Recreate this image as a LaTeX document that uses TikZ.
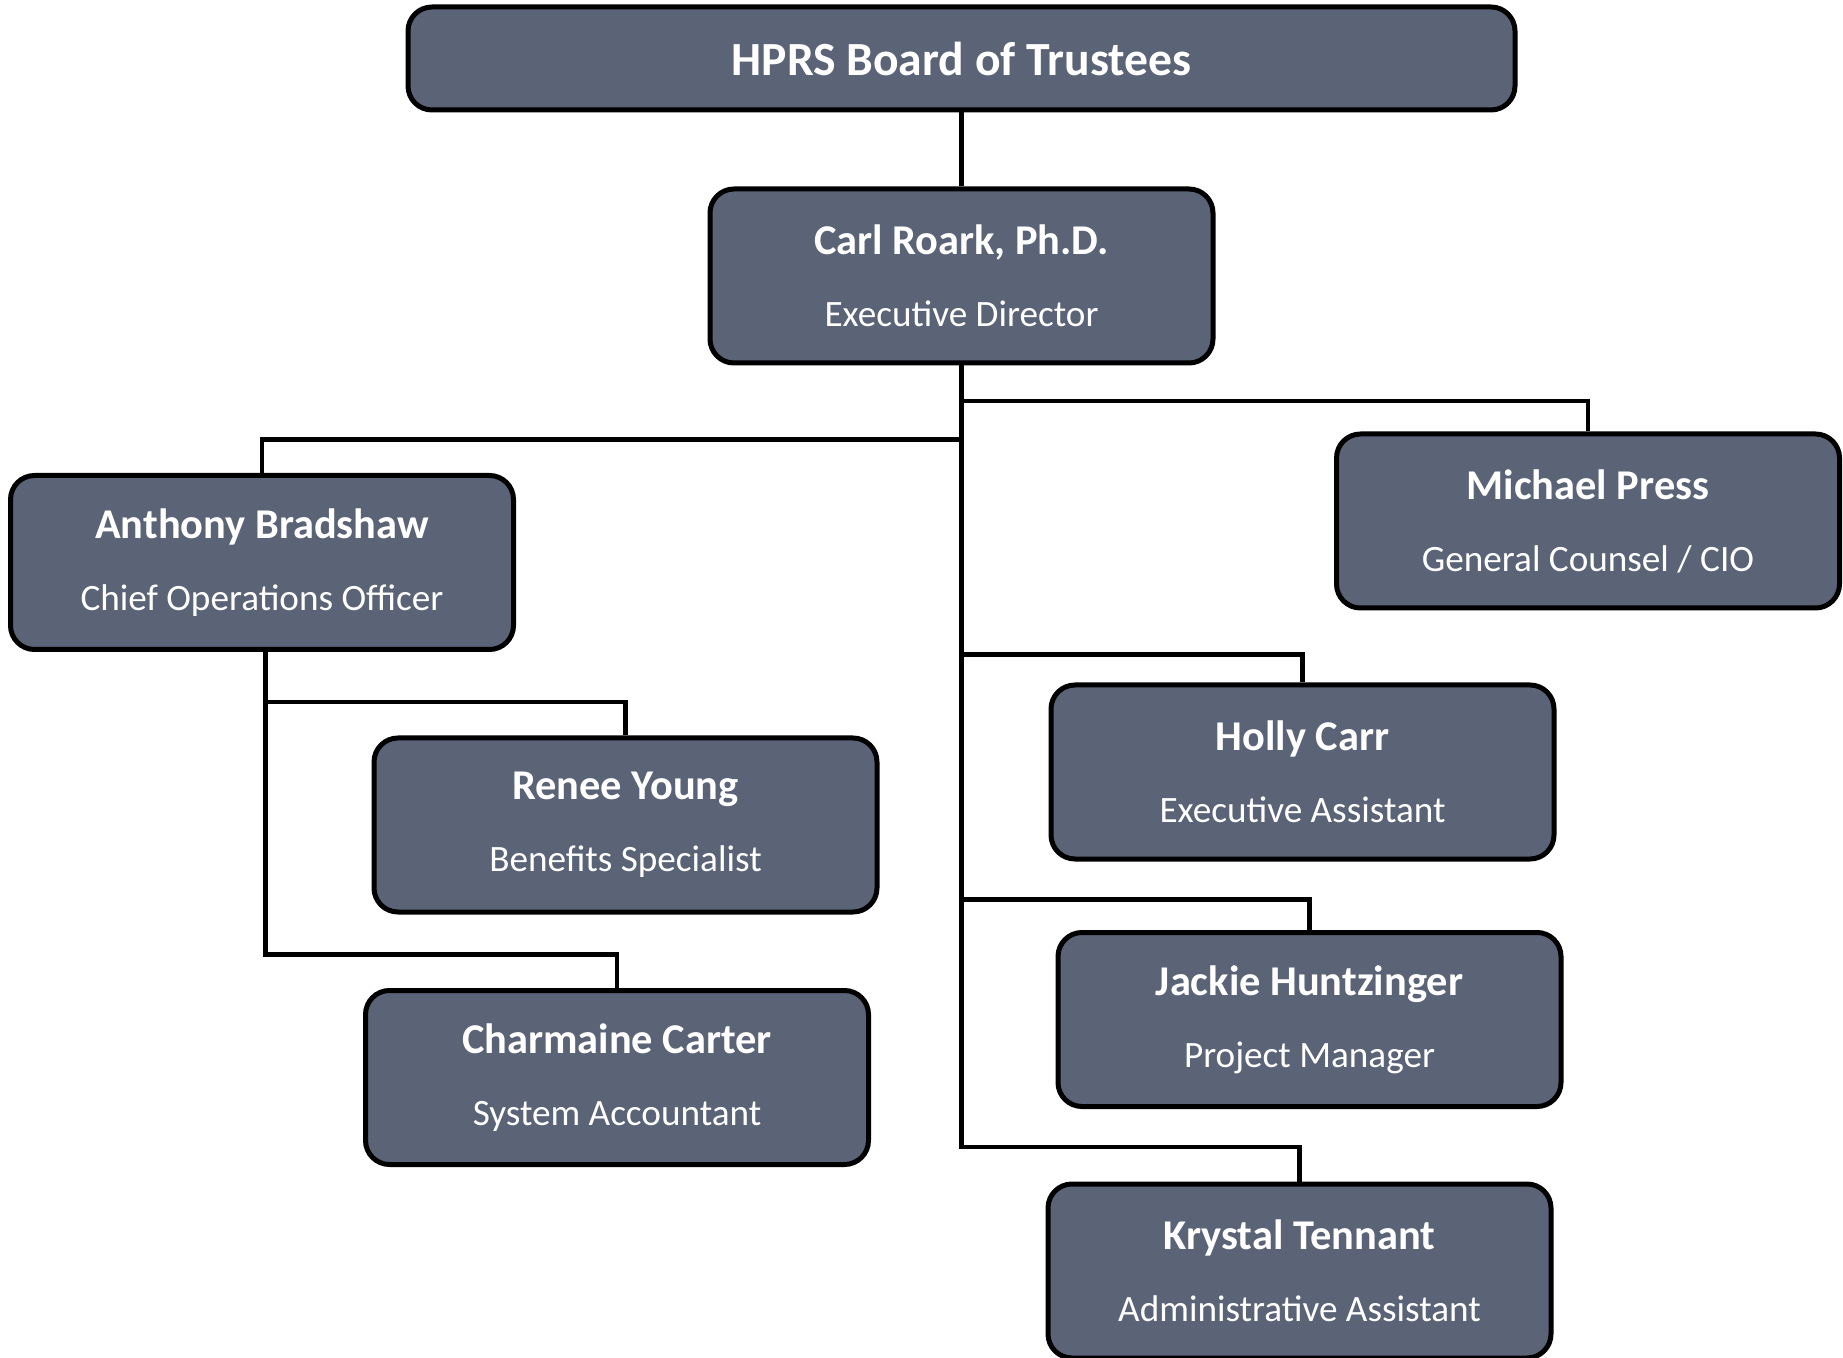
\documentclass[tikz,border=0pt]{standalone}
\usepackage{fontspec}
\setmainfont{Carlito}
\definecolor{boxfill}{RGB}{91,99,119}
\newcommand{\staffcard}[2]{{\fontsize{10.6}{12.6}\selectfont\bfseries #1}\\[6pt]{\fontsize{9.3}{11}\selectfont #2}}

\begin{document}
\begin{tikzpicture}[x=0.25pt,y=-0.25pt,
   staff/.style={draw,line width=1.25pt,rounded corners=6pt,fill=boxfill,text=white,
      minimum width=125.75pt,minimum height=43.5pt,align=center,inner sep=0pt},
   link/.style={line width=1.15pt}]
\useasboundingbox (0,0) rectangle (1843,1358);

\node[staff,minimum width=276.75pt,minimum height=25.75pt] (board) at (961.5,58.5)
   {\fontsize{11.9}{14}\selectfont\bfseries HPRS Board of Trustees};
\node[staff] (carl) at (961.5,276) {\staffcard{Carl Roark, Ph.D.}{Executive Director}};
\node[staff] (anthony) at (262,562.5) {\staffcard{Anthony Bradshaw}{Chief Operations Officer}};
\node[staff] (michael) at (1588,521) {\staffcard{Michael Press}{General Counsel / CIO}};
\node[staff] (renee) at (625.5,825) {\staffcard{Renee Young}{Benefits Specialist}};
\node[staff] (charmaine) at (617,1077.5) {\staffcard{Charmaine Carter}{System Accountant}};
\node[staff] (holly) at (1302.5,772) {\staffcard{Holly Carr}{Executive Assistant}};
\node[staff] (jackie) at (1309.5,1019.5) {\staffcard{Jackie Huntzinger}{Project Manager}};
\node[staff] (krystal) at (1299.5,1271) {\staffcard{Krystal Tennant}{Administrative Assistant}};
\coordinate (cootrunk) at ([xshift=0.9pt]anthony.south);

% reporting lines
\draw[link] (board.south) -- (carl.north);
\foreach \n/\d in {anthony/8.4,michael/7.65,holly/7.0,jackie/7.7,krystal/8.6}
   \draw[link] (carl.south) |- ([yshift=\d pt]\n.north) -- (\n.north);
\foreach \n in {renee,charmaine}
   \draw[link] (cootrunk) |- ([yshift=8.4pt]\n.north) -- (\n.north);
\end{tikzpicture}
\end{document}
